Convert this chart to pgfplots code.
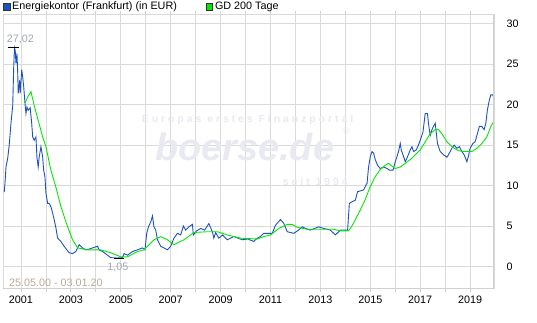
\documentclass[border=0pt]{standalone}
\usepackage{pgfplots}
\pgfplotsset{compat=1.18}
\usepackage{fontspec}
\setmainfont{Liberation Sans}
\newfontfamily\wmfont[LetterSpace=28]{Liberation Sans}
\definecolor{blueC}{RGB}{28,82,186}
\definecolor{greenC}{RGB}{0,232,0}
\definecolor{gridC}{RGB}{218,218,218}
\definecolor{spineC}{RGB}{208,208,208}
\definecolor{wmC}{RGB}{233,233,241}
\definecolor{annC}{RGB}{160,166,180}
\definecolor{dateC}{RGB}{185,170,150}
\begin{document}
\begin{tikzpicture}
\begin{axis}[
  width=492pt, height=275pt, scale only axis,
  xmin=2000.28, xmax=2019.96, ymin=-2.75, ymax=31.15,
  xtick={2001,...,2019},
  xticklabels={2001,,2003,,2005,,2007,,2009,,2011,,2013,,2015,,2017,,2019},
  ytick={0,5,...,30},
  yticklabel pos=right,
  grid=major,
  major grid style={draw=gridC, line width=0.8pt},
  axis line style={draw=gridC, line width=0.8pt},
  tick align=outside,
  x tick style={draw=spineC, line width=0.8pt},
  major tick length=3pt,
  y tick style={draw=none},
  tick label style={font=\fontsize{10.8}{12}\selectfont, text=black},
  /pgf/number format/assume math mode=true,
  yticklabel style={anchor=west, xshift=6pt},
  xticklabel style={yshift=-1pt},
  legend style={at={(rel axis cs:0,1)}, anchor=south west, draw=none, fill=none,
    inner sep=0pt, outer sep=0pt, yshift=1pt,
    font=\fontsize{10.8}{12}\selectfont,
    /tikz/every even column/.append style={column sep=27pt}},
  legend columns=2,
  legend cell align=left,
]
% watermark
\node[text=wmC, font=\wmfont\bfseries\fontsize{10.5}{12}\selectfont] at (rel axis cs:0.498,0.6145) {Europas erstes Finanzportal};
\node[text=wmC, font=\bfseries\itshape\fontsize{38}{40}\selectfont] at (rel axis cs:0.492,0.515) {boerse.de};
\node[text=wmC, font=\fontsize{10}{12}\selectfont] at (rel axis cs:0.698,0.575) {\textregistered};
\node[text=wmC, font=\wmfont\bfseries\fontsize{10.5}{12}\selectfont] at (rel axis cs:0.636,0.389) {seit 1994};

\addplot[blueC, line width=0.9pt,
  legend image code/.code={\draw[draw=black!80, fill=blueC, line width=0.6pt] (0pt,-3.3pt) rectangle (6.6pt,3.3pt);}]
coordinates {
(2000.33,9.2)(2000.36,10.3)(2000.40,12.3)(2000.47,13.4)(2000.53,15.0)(2000.60,17.7)
(2000.67,19.9)(2000.71,24.7)(2000.74,27.02)(2000.77,26.7)(2000.80,25.1)(2000.84,26.3)
(2000.87,23.9)(2000.89,21.4)(2000.95,23.0)(2000.97,21.4)(2001.03,24.3)(2001.07,23.4)
(2001.11,22.2)(2001.16,20.2)(2001.20,18.9)(2001.24,19.7)(2001.29,19.3)(2001.37,19.6)
(2001.43,17.7)(2001.47,16.0)(2001.53,15.6)(2001.60,16.0)(2001.64,13.5)(2001.69,12.3)
(2001.73,13.5)(2001.80,14.8)(2001.87,13.5)(2001.91,11.9)(2001.96,11.1)(2002.00,9.1)
(2002.07,7.8)(2002.13,7.8)(2002.20,7.4)(2002.27,6.6)(2002.33,5.8)(2002.40,4.8)
(2002.47,3.5)(2002.60,3.1)(2002.73,2.5)(2002.93,1.7)(2003.07,1.6)(2003.20,1.85)
(2003.33,2.7)(2003.47,2.3)(2003.60,2.06)(2003.73,2.15)(2003.87,2.3)(2004.07,2.5)
(2004.13,2.06)(2004.27,1.85)(2004.47,1.4)(2004.60,1.1)(2004.85,1.05)(2005.07,1.1)
(2005.13,1.6)(2005.27,1.4)(2005.47,1.85)(2005.67,2.06)(2005.87,2.3)(2005.97,2.06)
(2006.04,4.1)(2006.11,4.9)(2006.20,5.5)(2006.27,6.25)(2006.33,4.9)(2006.40,4.5)
(2006.47,3.3)(2006.60,2.5)(2006.73,2.3)(2006.87,2.06)(2007.00,2.5)(2007.13,3.5)
(2007.27,4.1)(2007.40,3.9)(2007.51,5.0)(2007.60,4.5)(2007.73,4.9)(2007.87,5.2)
(2007.91,3.9)(2008.04,4.4)(2008.20,4.7)(2008.36,4.5)(2008.53,5.3)(2008.67,4.3)
(2008.73,3.5)(2008.80,4.2)(2008.93,3.5)(2009.08,3.9)(2009.27,3.3)(2009.53,3.7)
(2009.87,3.3)(2010.08,3.4)(2010.33,3.1)(2010.47,3.5)(2010.60,3.7)(2010.73,4.1)
(2011.07,4.1)(2011.20,5.1)(2011.40,5.8)(2011.53,5.35)(2011.67,4.3)(2011.93,4.1)
(2012.13,4.5)(2012.27,4.9)(2012.40,4.7)(2012.60,4.5)(2012.93,4.9)(2013.13,4.7)
(2013.40,4.5)(2013.60,3.9)(2013.80,4.5)(2014.09,4.5)(2014.16,7.8)(2014.27,8.0)
(2014.40,8.2)(2014.49,9.25)(2014.73,9.45)(2014.87,10.3)(2014.93,12.3)(2015.00,13.6)
(2015.07,14.2)(2015.13,14.0)(2015.20,13.2)(2015.29,12.5)(2015.40,12.1)(2015.53,12.3)
(2015.67,12.1)(2015.77,11.9)(2015.91,11.9)(2016.00,12.95)(2016.07,13.6)(2016.13,14.2)
(2016.20,15.2)(2016.24,14.4)(2016.33,13.6)(2016.40,12.95)(2016.47,13.4)(2016.60,14.4)
(2016.67,14.8)(2016.73,14.2)(2016.84,14.4)(2016.93,15.0)(2017.00,15.6)(2017.11,16.6)
(2017.20,18.9)(2017.29,18.9)(2017.33,17.7)(2017.40,16.2)(2017.47,16.9)(2017.53,17.3)
(2017.60,17.7)(2017.63,16.9)(2017.69,15.2)(2017.80,14.2)(2017.93,13.8)(2018.07,13.5)
(2018.13,13.8)(2018.27,14.6)(2018.36,15.0)(2018.47,14.6)(2018.57,14.8)(2018.67,14.2)
(2018.76,13.8)(2018.87,12.95)(2018.93,13.6)(2019.00,14.6)(2019.11,15.2)(2019.20,15.4)
(2019.29,16.4)(2019.37,17.3)(2019.47,17.3)(2019.56,16.9)(2019.63,17.7)(2019.69,19.3)
(2019.77,20.55)(2019.83,21.2)(2019.91,21.2)(2019.97,20.55)
};
\addlegendentry{Energiekontor (Frankfurt) (in EUR)}

\addplot[greenC, line width=0.9pt,
  legend image code/.code={\draw[draw=black!80, fill=greenC, line width=0.6pt] (0pt,-3.3pt) rectangle (6.6pt,3.3pt);}]
coordinates {
(2001.16,20.2)(2001.28,21.0)(2001.40,21.6)(2001.53,19.9)(2001.87,16.0)(2002.00,14.8)
(2002.20,11.9)(2002.40,9.8)(2002.60,7.4)(2002.87,4.9)(2003.07,3.3)(2003.27,2.3)
(2003.67,2.06)(2004.20,2.06)(2004.60,1.7)(2005.00,1.2)(2005.27,1.2)(2005.67,1.85)
(2005.93,2.06)(2006.33,3.3)(2006.60,3.7)(2006.87,3.3)(2007.13,2.7)(2007.53,3.3)
(2007.93,4.2)(2008.47,4.3)(2008.87,4.3)(2009.27,3.9)(2009.80,3.5)(2010.47,3.4)
(2010.73,3.7)(2011.00,3.9)(2011.33,4.7)(2011.67,5.2)(2011.87,5.2)(2012.07,4.85)
(2012.47,4.6)(2013.00,4.6)(2013.53,4.6)(2013.80,4.4)(2014.13,4.4)(2014.33,5.35)
(2014.60,7.0)(2014.80,8.3)(2015.00,9.9)(2015.20,11.1)(2015.40,12.0)(2015.60,12.5)
(2015.73,12.75)(2015.87,12.4)(2016.00,12.1)(2016.20,12.3)(2016.40,12.75)(2016.60,13.2)
(2016.80,13.8)(2017.00,14.4)(2017.20,15.4)(2017.40,16.4)(2017.60,16.9)(2017.73,16.9)
(2017.87,16.4)(2018.07,15.4)(2018.27,14.8)(2018.47,14.4)(2018.67,14.2)(2019.07,14.2)
(2019.27,14.6)(2019.47,15.2)(2019.67,16.0)(2019.83,17.3)(2019.91,17.75)(2019.96,17.75)
};
\addlegendentry{GD 200 Tage}

% max / min markers
\addplot[black, line width=0.9pt, forget plot] coordinates {(2000.48,27.02)(2000.92,27.02)};
\addplot[black, line width=0.9pt, forget plot] coordinates {(2004.72,0.95)(2005.12,0.95)};

\node[text=annC, font=\fontsize{10.8}{12}\selectfont] at (rel axis cs:0.0356,0.909) {27,02};
\node[text=annC, font=\fontsize{10.8}{12}\selectfont] at (rel axis cs:0.2337,0.0764) {1,05};
\node[text=dateC, font=\fontsize{10.8}{12}\selectfont, anchor=west, inner sep=0pt] at (rel axis cs:0.0122,0.0218) {25.05.00 - 03.01.20};

\draw[spineC, line width=2pt] (rel axis cs:1,0) -- (rel axis cs:1,1);
\draw[spineC, line width=1.5pt] (rel axis cs:0,0) -- (rel axis cs:1,0);
\end{axis}
\path (current axis.south west) ++(-2pt,-34pt) rectangle ++(537pt,323pt);
\end{tikzpicture}
\end{document}
